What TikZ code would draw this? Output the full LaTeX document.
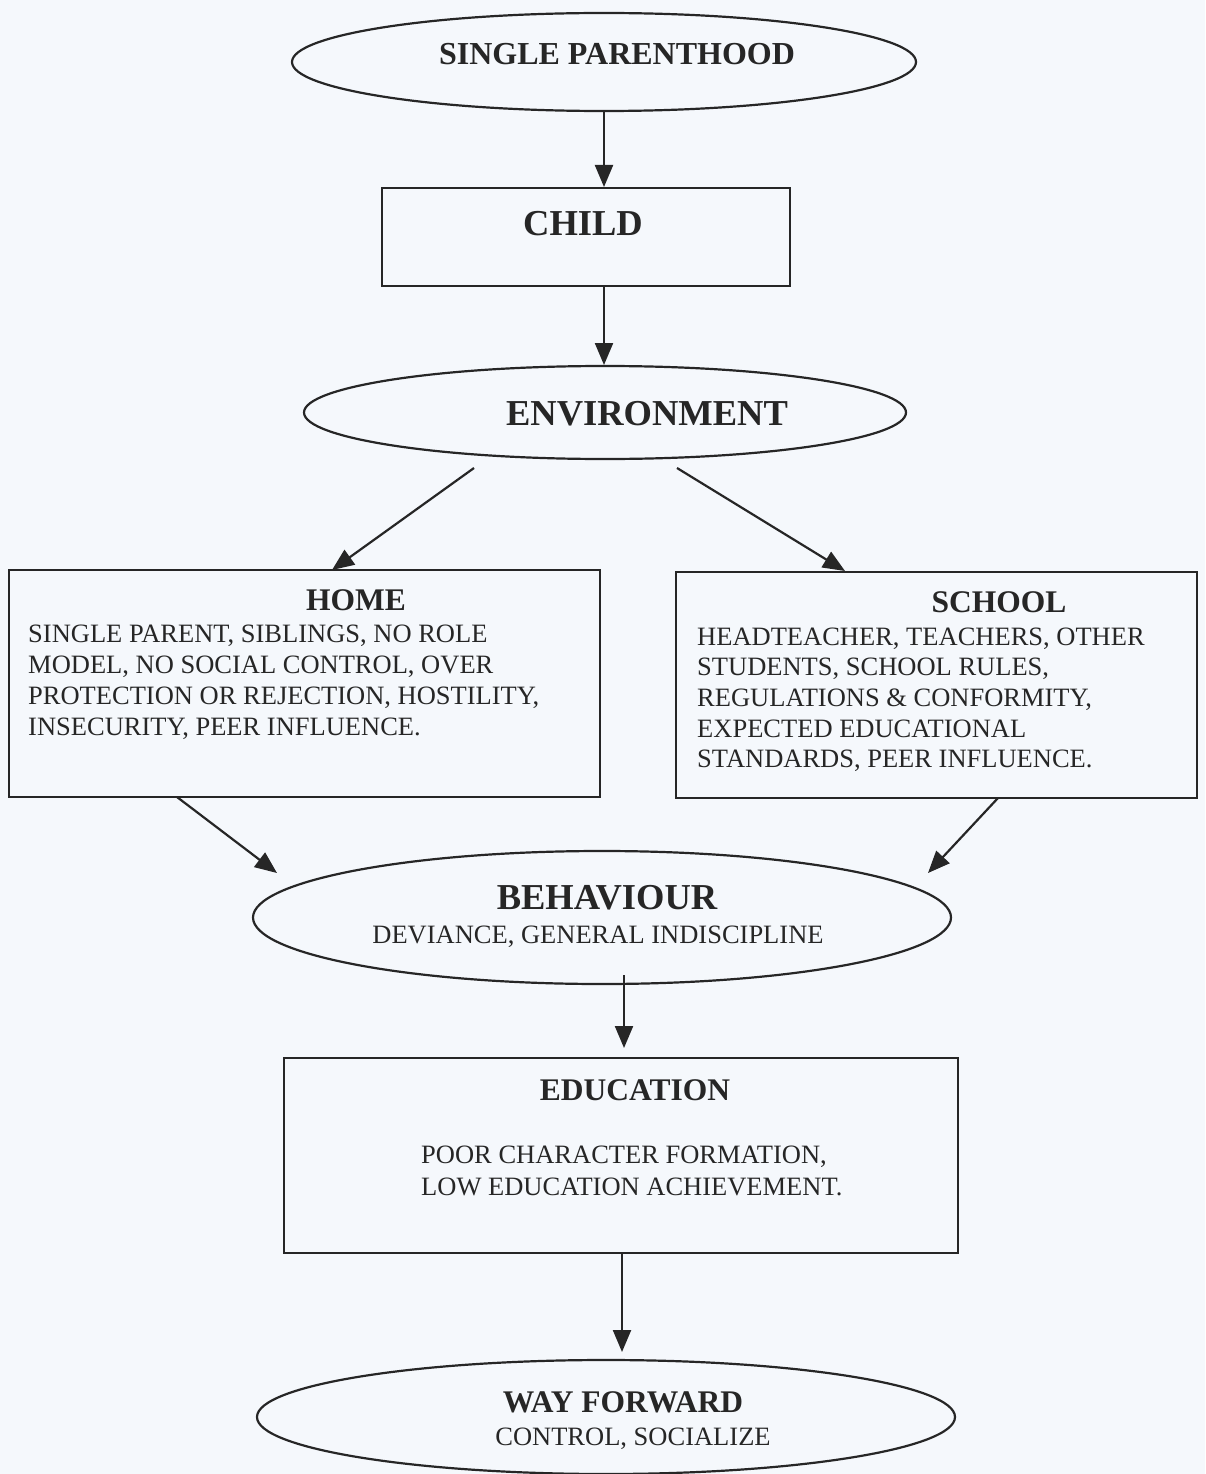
\documentclass[tikz,border=0pt]{standalone}
\usepackage{fontspec}
\setmainfont{Liberation Serif}
\usetikzlibrary{shapes.geometric,arrows.meta}
\definecolor{bg}{HTML}{F5F8FC}
\definecolor{ink}{HTML}{262626}
\tikzset{
  shapeline/.style={draw=ink, line width=2.2pt},
  ell/.style={shapeline, ellipse, inner sep=0pt},
  box/.style={shapeline, rectangle, inner sep=0pt},
  arr/.style={draw=ink, line width=2.2pt, -{Triangle[length=22pt,width=18pt]}},
  bigtitle/.style={inner sep=0pt, anchor=base, text=ink, font=\fontsize{36.5}{40}\selectfont\bfseries},
  title/.style={inner sep=0pt, anchor=base, text=ink, font=\fontsize{31.5}{36}\selectfont\bfseries},
  body/.style={inner sep=0pt, text=ink, font=\fontsize{26.5}{31}\selectfont},
}
\begin{document}
\begin{tikzpicture}[x=1pt,y=-1pt]
\useasboundingbox (0,0) rectangle (1205,1474);
\fill[bg] (0,0) rectangle (1205,1474);

% shapes
\node[ell, minimum width=624pt, minimum height=98pt] (sp) at (604,62) {};
\node[box, minimum width=408pt, minimum height=98pt] (child) at (586,237) {};
\node[ell, minimum width=602pt, minimum height=93pt] (env) at (605,412.5) {};
\node[box, minimum width=591pt, minimum height=227pt] (home) at (304.5,683.5) {};
\node[box, minimum width=521pt, minimum height=226pt] (school) at (936.5,685) {};
\node[ell, minimum width=698pt, minimum height=133pt] (beh) at (602,917.5) {};
\node[box, minimum width=674pt, minimum height=195pt] (edu) at (621,1155.5) {};
\node[ell, minimum width=698pt, minimum height=114pt] (way) at (606,1417) {};

% texts
\node[title, font=\fontsize{32}{36}\selectfont\bfseries] (tsp) at (617,65) {SINGLE PARENTHOOD};
\node[bigtitle] (tchild) at (583,235) {CHILD};
\node[bigtitle] (tenv) at (647,425) {ENVIRONMENT};
\node[title] (thome) at (356,610) {HOME};
\node[body, anchor=base west] (h1) at (28,642) {SINGLE PARENT, SIBLINGS, NO ROLE};
\node[body, anchor=base west] (h2) at (28,673) {MODEL, NO SOCIAL CONTROL, OVER};
\node[body, anchor=base west] (h3) at (28,704) {PROTECTION OR REJECTION, HOSTILITY,};
\node[body, anchor=base west] (h4) at (28,735) {INSECURITY, PEER INFLUENCE.};
\node[title] (tschool) at (999,612) {SCHOOL};
\node[body, anchor=base west] (s1) at (697,645) {HEADTEACHER, TEACHERS, OTHER};
\node[body, anchor=base west] (s2) at (697,675.5) {STUDENTS, SCHOOL RULES,};
\node[body, anchor=base west] (s3) at (697,706) {REGULATIONS \& CONFORMITY,};
\node[body, anchor=base west] (s4) at (697,737) {EXPECTED EDUCATIONAL};
\node[body, anchor=base west] (s5) at (697,767.5) {STANDARDS, PEER INFLUENCE.};
\node[bigtitle] (tbeh) at (607,909) {BEHAVIOUR};
\node[body, anchor=base] (b1) at (598,943) {DEVIANCE, GENERAL INDISCIPLINE};
\node[title] (tedu) at (635,1100) {EDUCATION};
\node[body, anchor=base west] (e1) at (421,1163) {POOR CHARACTER FORMATION,};
\node[body, anchor=base west] (e2) at (421,1195) {LOW EDUCATION ACHIEVEMENT.};
\node[title] (tway) at (623,1412) {WAY FORWARD};
\node[body, anchor=base] (w1) at (633,1445) {CONTROL, SOCIALIZE};

% connector ends
\coordinate (c1s) at (604,111);
\coordinate (c1e) at (604,187);
\coordinate (c2s) at (604,286);
\coordinate (c2e) at (604,365);
\coordinate (c3s) at (474,468);
\coordinate (c3e) at (332,570);
\coordinate (c4s) at (677,468);
\coordinate (c4e) at (845,571);
\coordinate (c5s) at (177,797);
\coordinate (c5e) at (277,873);
\coordinate (c6s) at (998,798);
\coordinate (c6e) at (928,873);
\coordinate (c7s) at (624,975);
\coordinate (c7e) at (624,1048);
\coordinate (c8s) at (622,1253);
\coordinate (c8e) at (622,1352);

\draw[arr] (c1s) -- (c1e);
\draw[arr] (c2s) -- (c2e);
\draw[arr] (c3s) -- (c3e);
\draw[arr] (c4s) -- (c4e);
\draw[arr] (c5s) -- (c5e);
\draw[arr] (c6s) -- (c6e);
\draw[arr] (c7s) -- (c7e);
\draw[arr] (c8s) -- (c8e);
\end{tikzpicture}
\end{document}
